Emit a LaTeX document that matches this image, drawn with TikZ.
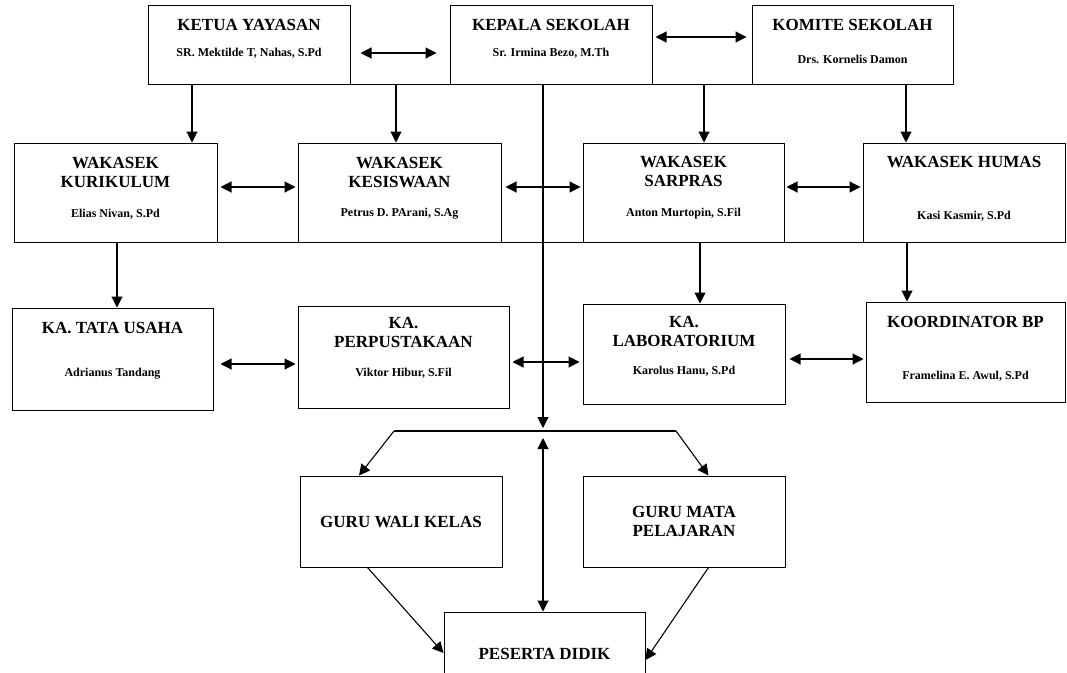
\documentclass[tikz,border=0pt]{standalone}
\usepackage{fontspec}
\setmainfont{Liberation Serif}
\usetikzlibrary{arrows.meta}

\begin{document}
\begin{tikzpicture}[
    x=1pt, y=-1pt,
    box/.style={draw, line width=1pt, minimum width=202pt, inner sep=0pt, align=center,
      font=\fontsize{17}{19}\selectfont\bfseries},
    head/.style={align=center, inner sep=0pt, font=\fontsize{17}{19}\selectfont\bfseries},
    who/.style={inner sep=0pt, font=\fontsize{12}{14}\selectfont\bfseries},
    arrow/.style={-{Triangle[length=11pt,width=11pt]}, line width=1.1pt},
    biarrow/.style={{Triangle[length=11pt,width=11pt]}-{Triangle[length=11pt,width=11pt]}, line width=1.1pt},
    link/.style={line width=1.1pt}
  ]
    \useasboundingbox (0,0) rectangle (1067,672);

    % top row
    \node[box, minimum height=79pt] (ketua) at (249,44.5) {};
    \node[box, minimum height=79pt] (kepala) at (551,44.5) {};
    \node[box, minimum height=79pt, minimum width=201pt] (komite) at (852.5,44.5) {};
    \node[head] (ketua-t) at (249,25) {KETUA YAYASAN};
    \node[who] (ketua-n) at (249,53) {SR. Mektilde T, Nahas, S.Pd};
    \node[head] (kepala-t) at (551,25) {KEPALA SEKOLAH};
    \node[who] (kepala-n) at (551,53) {Sr. Irmina Bezo, M.Th};
    \node[head] (komite-t) at (852.5,25) {KOMITE SEKOLAH};
    \node[who] (komite-n) at (852.5,59) {Drs. Kornelis Damon};

    % wakasek row
    \node[box, minimum height=99pt, minimum width=203pt] (kurikulum) at (115.5,192.5) {};
    \node[box, minimum height=99pt, minimum width=203pt] (kesiswaan) at (399.5,192.5) {};
    \node[box, minimum height=99pt, minimum width=201pt] (sarpras) at (683.5,192.5) {};
    \node[box, minimum height=99pt] (humas) at (964,192.5) {};
    \node[head] (kurikulum-t) at (115.5,172.5) {WAKASEK\\KURIKULUM};
    \node[who] (kurikulum-n) at (115.5,214) {Elias Nivan, S.Pd};
    \node[head] (kesiswaan-t) at (399.5,172.5) {WAKASEK\\KESISWAAN};
    \node[who] (kesiswaan-n) at (399.5,214) {Petrus D. PArani, S.Ag};
    \node[head] (sarpras-t) at (683.5,171.5) {WAKASEK\\SARPRAS};
    \node[who] (sarpras-n) at (683.5,214) {Anton Murtopin, S.Fil};
    \node[head] (humas-t) at (964,162) {WAKASEK HUMAS};
    \node[who] (humas-n) at (964,216) {Kasi Kasmir, S.Pd};

    % kepala unit row
    \node[box, minimum height=102pt, minimum width=201pt] (tata) at (112.5,359) {};
    \node[box, minimum height=102pt, minimum width=211pt] (perpus) at (403.5,357) {};
    \node[box, minimum height=100pt] (lab) at (684,354) {};
    \node[box, minimum height=100pt, minimum width=199pt] (koord) at (965.5,352) {};
    \node[head] (tata-t) at (112.5,328) {KA. TATA USAHA};
    \node[who] (tata-n) at (112.5,374) {Adrianus Tandang};
    \node[head] (perpus-t) at (403.5,332.5) {KA.\\PERPUSTAKAAN};
    \node[who] (perpus-n) at (403.5,373) {Viktor Hibur, S.Fil};
    \node[head] (lab-t) at (684,331) {KA.\\LABORATORIUM};
    \node[who] (lab-n) at (684,371) {Karolus Hanu, S.Pd};
    \node[head] (koord-t) at (965.5,322) {KOORDINATOR BP};
    \node[who] (koord-n) at (965.5,376) {Framelina E. Awul, S.Pd};

    % guru and peserta
    \node[box, minimum height=91pt] (wali) at (401,521.5) {GURU WALI KELAS};
    \node[box, minimum height=91pt] (mapel) at (684,521.5) {GURU MATA\\PELAJARAN};
    \node[box, minimum height=84pt, minimum width=201pt] (peserta) at (544.5,654) {PESERTA DIDIK};

    % bus lines under the rows
    \draw[link] (ketua.south west) -- (komite.south east);
    \draw[link] (kurikulum.south west) -- (humas.south east);

    % horizontal links
    \draw[biarrow] ([xshift=10pt,yshift=-8.5pt]ketua.east) -- ([xshift=-13pt,yshift=-8.5pt]kepala.west);
    \draw[biarrow] ([xshift=3pt,yshift=7.5pt]kepala.east) -- ([xshift=-5pt,yshift=7.5pt]komite.west);
    \draw[biarrow] ([xshift=3pt,yshift=5.5pt]kurikulum.east) -- ([xshift=-2pt,yshift=5.5pt]kesiswaan.west);
    \draw[biarrow] ([xshift=4pt,yshift=5.5pt]kesiswaan.east) -- ([xshift=-2pt,yshift=5.5pt]sarpras.west);
    \draw[biarrow] ([xshift=2pt,yshift=5.5pt]sarpras.east) -- ([xshift=-2pt,yshift=5.5pt]humas.west);
    \draw[biarrow] ([xshift=7pt,yshift=-5pt]tata.east) -- ([xshift=-2pt,yshift=-7pt]perpus.west);
    \draw[biarrow] ([xshift=3pt,yshift=-5pt]perpus.east) -- ([xshift=-3pt,yshift=-8pt]lab.west);
    \draw[biarrow] ([xshift=4pt,yshift=-5pt]lab.east) -- ([xshift=-2pt,yshift=-7pt]koord.west);

    % downward links
    \draw[arrow] ([xshift=-57pt]ketua.south) -- ([xshift=76.5pt]kurikulum.north);
    \draw[arrow] ([xshift=147pt]ketua.south) -- ([xshift=-3.5pt]kesiswaan.north);
    \draw[arrow] ([xshift=-148.5pt]komite.south) -- ([xshift=20.5pt]sarpras.north);
    \draw[arrow] ([xshift=53.5pt]komite.south) -- ([xshift=-58pt]humas.north);
    \draw[arrow] ([xshift=1.5pt]kurikulum.south) -- ([xshift=4.5pt]tata.north);
    \draw[arrow] ([xshift=16.5pt]sarpras.south) -- ([xshift=16pt]lab.north);
    \draw[arrow] ([xshift=-57pt]humas.south) -- ([xshift=-58.5pt]koord.north);

    % main line to the teachers
    \coordinate (split) at (543,428);
    \coordinate (split-l) at (394,431);
    \coordinate (split-r) at (676,431);
    \coordinate (back) at (543,438);
    \draw[arrow] ([xshift=-8pt]kepala.south) -- (split);
    \draw[link] (split-l) -- (split-r);
    \draw[arrow] (split-l) -- ([xshift=-42pt]wali.north);
    \draw[arrow] (split-r) -- ([xshift=24.5pt]mapel.north);
    \draw[biarrow] (back) -- ([xshift=-1.5pt]peserta.north);
    \draw[arrow] ([xshift=-33.5pt]wali.south) -- ([yshift=1pt]peserta.west);
    \draw[arrow] ([xshift=24.5pt]mapel.south) -- ([yshift=-6pt]peserta.east);
  \end{tikzpicture}
\end{document}
